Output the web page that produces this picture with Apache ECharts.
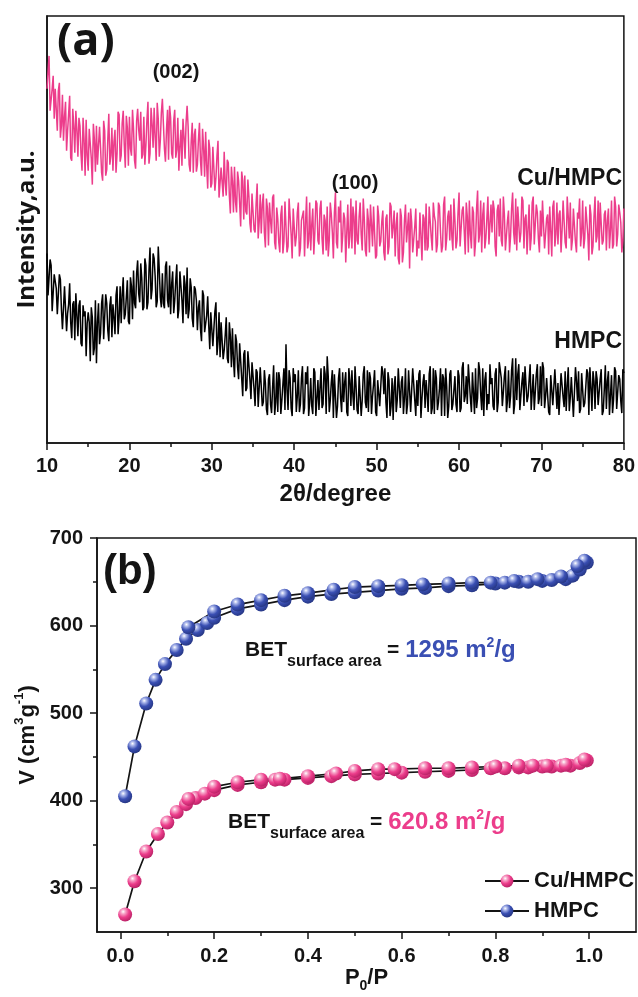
<!DOCTYPE html>
<html>
<head>
<meta charset="utf-8">
<script src="https://cdn.jsdelivr.net/npm/echarts@6/dist/echarts.min.js"></script>
<style>
  html, body { margin: 0; padding: 0; background: #ffffff; }
  #chart { width: 638px; height: 997px; }
</style>
</head>
<body>
<div id="chart"></div>
<script>
// ---- (a) XRD patterns: 2θ scan from 10° to 80°, 0.125° step (one row per degree) ----
const scanStart = 10;
const scanStep = 0.125;

const xrdCuHMPC = [
  355, 372, 388, 333, 335, 355, 368, 325,
  355, 334, 313, 353, 361, 306, 318, 349,
  303, 327, 342, 293, 313, 330, 348, 286,
  283, 335, 318, 291, 333, 314, 287, 326,
  318, 290, 273, 326, 304, 268, 324, 288,
  273, 315, 313, 285, 259, 320, 304, 272,
  318, 279, 281, 317, 296, 271, 263, 323,
  313, 268, 274, 304, 330, 279, 288, 316,
  273, 302, 314, 271, 290, 332, 329, 282,
  288, 321, 333, 299, 276, 328, 316, 278,
  327, 295, 288, 334, 315, 283, 275, 323,
  335, 314, 303, 332, 285, 289, 327, 279,
  298, 324, 342, 280, 290, 336, 320, 296,
  336, 307, 283, 341, 325, 287, 303, 331,
  345, 320, 295, 282, 314, 334, 284, 338,
  326, 290, 285, 323, 334, 286, 294, 326,
  273, 297, 314, 278, 325, 307, 285, 321,
  338, 317, 279, 272, 303, 321, 271, 309,
  315, 272, 279, 304, 321, 283, 268, 315,
  296, 267, 312, 278, 255, 304, 295, 256,
  260, 297, 298, 253, 266, 288, 303, 246,
  247, 276, 278, 247, 292, 261, 248, 284,
  281, 248, 230, 277, 262, 231, 277, 242,
  231, 272, 263, 240, 217, 272, 263, 224,
  268, 232, 229, 264, 247, 220, 211, 250,
  250, 214, 211, 240, 260, 205, 222, 249,
  210, 239, 250, 211, 196, 245, 235, 198,
  241, 223, 210, 246, 249, 201, 194, 236,
  225, 201, 191, 229, 238, 190, 202, 242,
  243, 191, 197, 245, 227, 209, 185, 235,
  233, 197, 207, 231, 241, 187, 195, 223,
  225, 233, 187, 221, 247, 195, 203, 241,
  193, 219, 235, 189, 211, 243, 240, 203,
  199, 235, 243, 205, 189, 229, 223, 193,
  237, 187, 203, 241, 229, 211, 185, 231,
  251, 201, 195, 237, 221, 243, 191, 207,
  231, 225, 181, 211, 239, 195, 207, 245,
  195, 237, 227, 189, 243, 203, 199, 227,
  241, 209, 193, 245, 225, 193, 187, 235,
  223, 191, 239, 219, 197, 237, 235, 185,
  188, 238, 227, 197, 202, 222, 233, 191,
  183, 225, 229, 189, 197, 241, 237, 205,
  217, 233, 187, 219, 231, 185, 179, 235,
  227, 181, 191, 223, 239, 201, 199, 231,
  175, 235, 221, 191, 193, 217, 235, 187,
  203, 195, 231, 233, 183, 229, 225, 193,
  240, 193, 197, 237, 222, 206, 193, 241,
  228, 222, 191, 199, 241, 237, 211, 191,
  197, 239, 247, 193, 205, 227, 233, 203,
  239, 207, 193, 245, 223, 195, 203, 231,
  251, 197, 199, 233, 237, 213, 189, 241,
  227, 191, 243, 209, 195, 237, 231, 187,
  201, 235, 253, 201, 209, 243, 191, 229,
  241, 195, 205, 225, 247, 199, 197, 239,
  211, 243, 235, 197, 187, 233, 239, 207,
  245, 203, 197, 247, 229, 193, 193, 223,
  233, 191, 207, 235, 251, 211, 199, 245,
  193, 237, 237, 201, 211, 247, 243, 195,
  225, 229, 189, 215, 239, 193, 205, 241,
  247, 199, 201, 239, 231, 205, 191, 233,
  207, 243, 241, 195, 197, 225, 229, 189,
  237, 213, 187, 237, 243, 197, 209, 241,
  199, 229, 233, 191, 213, 243, 245, 201,
  195, 247, 227, 205, 241, 193, 203, 235,
  235, 201, 191, 231, 225, 245, 197, 211,
  243, 195, 205, 237, 237, 209, 183, 239,
  229, 189, 197, 227, 247, 201, 207, 243,
  193, 241, 239, 199, 203, 229, 233, 193,
  223, 235, 195, 213, 243, 195, 199, 247,
  237, 197, 209, 239, 231, 221, 191, 203,
  235
];

const xrdHMPC = [
  190, 148, 150, 184, 178, 132, 131, 169,
  169, 155, 129, 127, 169, 164, 134, 114,
  116, 157, 155, 112, 130, 139, 160, 121,
  105, 139, 142, 103, 150, 148, 107, 138,
  143, 100, 97, 138, 127, 132, 87, 120,
  131, 121, 82, 136, 126, 88, 95, 143,
  80, 121, 140, 99, 110, 140, 149, 104,
  105, 149, 140, 113, 102, 138, 147, 106,
  139, 126, 109, 148, 157, 109, 126, 157,
  120, 149, 166, 124, 129, 146, 163, 122,
  119, 166, 157, 124, 173, 140, 135, 170,
  183, 150, 141, 180, 165, 133, 136, 185,
  178, 134, 141, 173, 196, 144, 154, 190,
  185, 167, 136, 142, 197, 173, 146, 136,
  170, 140, 135, 177, 182, 143, 136, 178,
  129, 159, 172, 130, 143, 163, 179, 125,
  134, 172, 173, 143, 120, 168, 159, 129,
  176, 125, 134, 165, 156, 125, 116, 157,
  154, 143, 113, 136, 143, 114, 102, 153,
  148, 111, 111, 128, 147, 118, 94, 131,
  130, 97, 95, 132, 141, 88, 102, 131,
  86, 121, 123, 84, 93, 108, 126, 85,
  80, 121, 107, 76, 115, 84, 66, 109,
  102, 76, 64, 100, 98, 65, 47, 89,
  93, 52, 55, 92, 78, 63, 44, 81,
  81, 54, 37, 74, 71, 36, 37, 76,
  77, 37, 41, 73, 60, 34, 28, 64,
  69, 39, 30, 56, 78, 28, 41, 71,
  31, 71, 63, 29, 43, 59, 75, 33,
  99, 53, 33, 73, 65, 35, 27, 75,
  61, 69, 31, 47, 73, 31, 39, 65,
  77, 29, 35, 71, 59, 77, 27, 41,
  65, 37, 29, 75, 71, 27, 45, 63,
  33, 55, 75, 35, 39, 77, 69, 29,
  87, 67, 31, 43, 61, 73, 25, 69,
  67, 25, 37, 65, 75, 45, 31, 71,
  41, 61, 71, 31, 27, 75, 63, 37,
  73, 47, 33, 77, 57, 33, 29, 67,
  69, 27, 43, 69, 77, 41, 35, 73,
  31, 71, 65, 29, 47, 59, 73, 31,
  27, 63, 61, 37, 35, 77, 71, 49,
  75, 41, 25, 71, 63, 27, 37, 65,
  23, 57, 67, 31, 43, 75, 73, 35,
  61, 67, 29, 45, 75, 29, 39, 73,
  71, 31, 33, 75, 59, 43, 27, 63,
  37, 69, 73, 25, 45, 61, 69, 35,
  63, 49, 31, 69, 77, 29, 35, 75,
  29, 73, 65, 33, 41, 55, 75, 27,
  69, 65, 27, 75, 57, 25, 37, 69,
  73, 33, 39, 53, 67, 39, 31, 73,
  67, 31, 35, 75, 81, 41, 47, 67,
  39, 79, 77, 45, 31, 71, 69, 29,
  75, 35, 45, 81, 73, 49, 33, 75,
  27, 63, 71, 33, 49, 39, 79, 59,
  65, 37, 33, 69, 75, 31, 41, 81,
  81, 65, 37, 51, 67, 77, 31, 43,
  73, 35, 47, 73, 85, 29, 39, 85,
  43, 69, 79, 33, 35, 61, 71, 37,
  77, 75, 41, 47, 63, 79, 33, 35,
  69, 33, 35, 69, 79, 39, 45, 77,
  37, 81, 75, 35, 47, 65, 67, 31,
  28, 68, 68, 38, 40, 74, 72, 34,
  60, 28, 30, 70, 70, 46, 36, 72,
  32, 58, 76, 32, 46, 66, 66, 26,
  26, 76, 62, 42, 72, 30, 34, 70,
  68, 36, 40, 56, 74, 70, 28, 76,
  56, 32, 72, 62, 34, 72, 64, 38,
  38, 64, 74, 28, 32, 54, 78, 34,
  62, 72, 28, 48, 68, 30, 44, 76,
  72, 34, 36, 68, 64, 42, 30, 74,
  70
];

const xrdTicks = [10, 20, 30, 40, 50, 60, 70, 80];

// ---- (b) N2 sorption isotherms (adsorption and desorption branches) ----
const cuAdsP = [0.01, 0.03, 0.055, 0.08, 0.10, 0.12, 0.14, 0.16, 0.18, 0.20, 0.25, 0.30, 0.33, 0.35, 0.40, 0.45,
                0.50, 0.55, 0.60, 0.65, 0.70, 0.75, 0.79, 0.82, 0.85, 0.87, 0.90, 0.92, 0.94, 0.96, 0.98, 0.995];
const cuAdsV = [270, 308, 342, 362, 375, 387, 396, 403, 408, 412, 418, 421, 424, 424, 426, 428,
                430, 431, 432, 433, 434, 435, 437, 437, 438, 438, 439, 439, 440, 440, 443, 446];
const cuDesP = [0.99, 0.95, 0.91, 0.88, 0.85, 0.80, 0.75, 0.70, 0.65, 0.585, 0.55, 0.50, 0.46, 0.40, 0.34, 0.30, 0.25, 0.20, 0.145];
const cuDesV = [447, 441, 440, 440, 440, 439, 438, 437, 437, 436, 436, 434, 431, 428, 425, 424, 421, 416, 402];

const hmpcAdsP = [0.01, 0.03, 0.055, 0.075, 0.095, 0.12, 0.14, 0.165, 0.185, 0.20, 0.25, 0.30, 0.35, 0.40, 0.45, 0.50,
                  0.55, 0.60, 0.65, 0.70, 0.75, 0.80, 0.82, 0.85, 0.87, 0.90, 0.92, 0.95, 0.965, 0.98, 0.995];
const hmpcAdsV = [405, 462, 511, 538, 556, 572, 585, 595, 603, 609, 619, 624, 629, 633, 636, 638,
                  640, 642, 643, 645, 646, 648, 649, 650, 650, 651, 652, 653, 657, 664, 672];
const hmpcDesP = [0.99, 0.975, 0.94, 0.89, 0.84, 0.79, 0.75, 0.70, 0.645, 0.60, 0.55, 0.50, 0.455, 0.40, 0.35, 0.30, 0.25, 0.20, 0.145];
const hmpcDesV = [674, 668, 656, 653, 651, 649, 649, 648, 647, 646, 645, 644, 641, 637, 634, 629, 624, 616, 598];

const pTicks = [0, 0.2, 0.4, 0.6, 0.8, 1.0];
const pMinorTicks = [0.1, 0.3, 0.5, 0.7, 0.9];
const vTicks = [300, 400, 500, 600, 700];
const vMinorTicks = [350, 450, 550, 650];

// ---- styling ----
const FONT = '"Liberation Sans", Arial, Helvetica, sans-serif';
const INK = '#141414';
const PINK = '#ec3d8b';
const BLUE = '#3a4fb3';

const scan = arr => arr.map((v, i) => [scanStart + i * scanStep, v]);
const pairs = (xs, ys) => xs.map((x, i) => [x, ys[i]]);

function sphere(light, base, dark) {
  return {
    type: 'radial', x: 0.36, y: 0.3, r: 0.75,
    colorStops: [
      { offset: 0, color: '#ffffff' },
      { offset: 0.2, color: light },
      { offset: 0.55, color: base },
      { offset: 1, color: dark }
    ]
  };
}
const pinkBall = sphere('#f7a9cb', PINK, '#b51f63');
const blueBall = sphere('#aab6ea', BLUE, '#24347f');

function isotherm(name, xs, ys, ball) {
  return {
    name, type: 'line', xAxisIndex: 1, yAxisIndex: 1,
    data: pairs(xs, ys),
    symbol: 'circle', symbolSize: 14, showSymbol: true,
    lineStyle: { color: INK, width: 1.7 },
    itemStyle: { color: ball, borderWidth: 0 },
    z: 3
  };
}

const tickFont = { fontFamily: FONT, fontWeight: 'bold', fontSize: 20, color: INK };
const axisLine = { show: true, onZero: false, lineStyle: { color: INK, width: 1.6 } };

function betText(color, value) {
  return {
    text: '{m|BET}{s|surface area}{m| = }{v|' + value + ' m}{p|2}{v|/g}',
    rich: {
      m: { fontFamily: FONT, fontWeight: 'bold', fontSize: 21, fill: INK, lineHeight: 40 },
      s: { fontFamily: FONT, fontWeight: 'bold', fontSize: 16, fill: INK, verticalAlign: 'bottom' },
      v: { fontFamily: FONT, fontWeight: 'bold', fontSize: 24, fill: color, lineHeight: 40 },
      p: { fontFamily: FONT, fontWeight: 'bold', fontSize: 14, fill: color, verticalAlign: 'top', padding: [6, 0, 0, 0] }
    },
    verticalAlign: 'middle', align: 'left'
  };
}

const chart = echarts.init(document.getElementById('chart'), null, { renderer: 'canvas' });

chart.setOption({
  animation: false,
  backgroundColor: '#ffffff',
  grid: [
    { left: 47, top: 16, right: 14, bottom: 554, show: true, borderColor: INK, borderWidth: 1.5, backgroundColor: 'transparent' },
    { left: 97, top: 538, right: 2, bottom: 65, show: true, borderColor: INK, borderWidth: 1.5, backgroundColor: 'transparent' }
  ],
  xAxis: [
    {
      gridIndex: 0, type: 'value', min: xrdTicks[0], max: xrdTicks[xrdTicks.length - 1], interval: 10,
      axisLine, axisTick: { show: true, inside: false, length: 7, lineStyle: { color: INK, width: 1.5 } },
      minorTick: { show: true, splitNumber: 2, length: 4, lineStyle: { color: INK, width: 1.5 } },
      splitLine: { show: false },
      axisLabel: Object.assign({ margin: 13 }, tickFont),
      name: '2θ/degree', nameLocation: 'middle', nameGap: 39,
      nameTextStyle: { fontFamily: FONT, fontWeight: 'bold', fontSize: 24, color: INK }
    },
    {
      gridIndex: 1, type: 'value', min: -0.05, max: 1.1,
      axisLine, splitLine: { show: false },
      axisTick: { show: true, length: 7, customValues: pTicks, lineStyle: { color: INK, width: 1.5 } },
      axisLabel: Object.assign({ margin: 14, customValues: pTicks, formatter: v => v.toFixed(1) }, tickFont),
      name: '{n|P}{s|0}{n|/P}', nameLocation: 'middle', nameGap: 30,
      nameTextStyle: {
        rich: {
          n: { fontFamily: FONT, fontWeight: 'bold', fontSize: 22, color: INK, lineHeight: 30 },
          s: { fontFamily: FONT, fontWeight: 'bold', fontSize: 14, color: INK, verticalAlign: 'bottom' }
        }
      }
    },
    {
      gridIndex: 1, type: 'value', min: -0.05, max: 1.1, position: 'bottom',
      axisLine: { show: false, onZero: false }, splitLine: { show: false }, axisLabel: { show: false },
      axisTick: { show: true, length: 4, customValues: pMinorTicks, lineStyle: { color: INK, width: 1.5 } }
    }
  ],
  yAxis: [
    {
      gridIndex: 0, type: 'value', min: 0, max: 428,
      axisLine, axisTick: { show: false }, axisLabel: { show: false }, splitLine: { show: false },
      name: 'Intensity,a.u.', nameLocation: 'middle', nameGap: 8,
      nameTextStyle: { fontFamily: '"Open Sans", ' + FONT, fontWeight: 'bold', fontSize: 24, color: INK }
    },
    {
      gridIndex: 1, type: 'value', min: 250, max: 700,
      axisLine, splitLine: { show: false },
      axisTick: { show: true, length: 7, customValues: vTicks, lineStyle: { color: INK, width: 1.5 } },
      axisLabel: Object.assign({ margin: 14, customValues: vTicks }, tickFont),
      name: '{n|V (cm}{p|3}{n|g}{p|-1}{n|)}', nameLocation: 'middle', nameGap: 50,
      nameTextStyle: {
        rich: {
          n: { fontFamily: FONT, fontWeight: 'bold', fontSize: 22, color: INK, lineHeight: 30 },
          p: { fontFamily: FONT, fontWeight: 'bold', fontSize: 13, color: INK, verticalAlign: 'top' }
        }
      }
    },
    {
      gridIndex: 1, type: 'value', min: 250, max: 700, position: 'left',
      axisLine: { show: false, onZero: false }, splitLine: { show: false }, axisLabel: { show: false },
      axisTick: { show: true, length: 4, customValues: vMinorTicks, lineStyle: { color: INK, width: 1.5 } }
    }
  ],
  legend: {
    data: ['Cu/HMPC', 'HMPC'],
    orient: 'vertical', left: 479, top: 865,
    itemWidth: 44, itemHeight: 16, itemGap: 8,
    selectedMode: false,
    textStyle: { fontFamily: FONT, fontWeight: 'bold', fontSize: 22, color: INK }
  },
  series: [
    {
      name: 'xrd Cu/HMPC', type: 'line', xAxisIndex: 0, yAxisIndex: 0,
      data: scan(xrdCuHMPC), showSymbol: false, symbol: 'none',
      lineStyle: { color: PINK, width: 1.5 }, silent: true
    },
    {
      name: 'xrd HMPC', type: 'line', xAxisIndex: 0, yAxisIndex: 0,
      data: scan(xrdHMPC), showSymbol: false, symbol: 'none',
      lineStyle: { color: '#000000', width: 1.5 }, silent: true
    },
    isotherm('Cu/HMPC', cuAdsP, cuAdsV, pinkBall),
    isotherm('Cu/HMPC', cuDesP, cuDesV, pinkBall),
    isotherm('HMPC', hmpcAdsP, hmpcAdsV, blueBall),
    isotherm('HMPC', hmpcDesP, hmpcDesV, blueBall)
  ],
  graphic: [
    { type: 'text', left: 57, top: 20, style: { text: '(a)', font: 'bold 45px "Open Sans", sans-serif', fill: INK } },
    { type: 'text', x: 176, y: 72, style: { text: '(002)', font: 'bold 20px ' + FONT, fill: INK, align: 'center', verticalAlign: 'middle' } },
    { type: 'text', x: 355, y: 183, style: { text: '(100)', font: 'bold 20px ' + FONT, fill: INK, align: 'center', verticalAlign: 'middle' } },
    { type: 'text', x: 622, y: 179, style: { text: 'Cu/HMPC', font: 'bold 23px ' + FONT, fill: INK, align: 'right', verticalAlign: 'middle' } },
    { type: 'text', x: 622, y: 342, style: { text: 'HMPC', font: 'bold 23px ' + FONT, fill: INK, align: 'right', verticalAlign: 'middle' } },
    { type: 'text', x: 103, y: 572, style: { text: '(b)', font: 'bold 42px ' + FONT, fill: INK, align: 'left', verticalAlign: 'middle' } },
    { type: 'text', x: 245, y: 650, style: betText(BLUE, '1295') },
    { type: 'text', x: 228, y: 822, style: betText(PINK, '620.8') }
  ]
});
</script>
</body>
</html>
